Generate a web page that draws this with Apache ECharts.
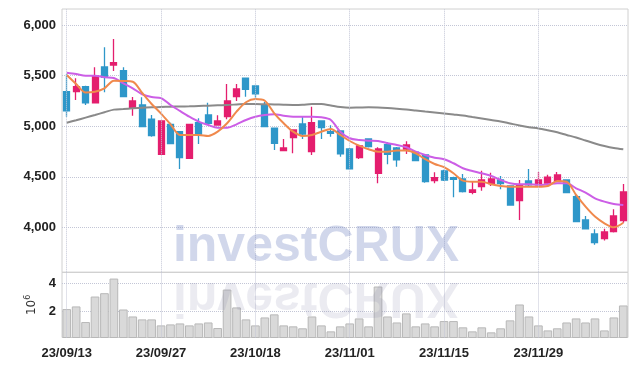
<!DOCTYPE html>
<html><head><meta charset="utf-8">
<script src="https://cdn.jsdelivr.net/npm/echarts@6/dist/echarts.min.js"></script>
<style>html,body{margin:0;padding:0;background:#fff}#c{width:635px;height:366px}</style>
</head><body><div id="c"></div>
<script>
const dates = ['23/09/13','23/09/14','23/09/15','23/09/18','23/09/19','23/09/20','23/09/21','23/09/22','23/09/25','23/09/26',
'23/09/27','23/10/04','23/10/05','23/10/06','23/10/10','23/10/11','23/10/12','23/10/13','23/10/16','23/10/17',
'23/10/18','23/10/19','23/10/20','23/10/23','23/10/24','23/10/25','23/10/26','23/10/27','23/10/30','23/10/31',
'23/11/01','23/11/02','23/11/03','23/11/06','23/11/07','23/11/08','23/11/09','23/11/10','23/11/13','23/11/14',
'23/11/15','23/11/16','23/11/17','23/11/20','23/11/21','23/11/22','23/11/23','23/11/24','23/11/27','23/11/28',
'23/11/29','23/11/30','23/12/01','23/12/04','23/12/05','23/12/06','23/12/07','23/12/08','23/12/11','23/12/12'];
const openP  = [5341,5341,5391,5230,5585,5605,5549,5177,5210,5069,4723,5019,4946,4683,5035,5111,5012,5094,5292,5474,
5398,5210,4980,4759,4887,5022,4749,5052,4946,4953,4775,4689,4874,4535,4818,4785,4775,4743,4716,4462,
4558,4492,4479,4348,4403,4433,4469,4410,4265,4459,4420,4437,4452,4469,4304,4074,3936,3889,3958,4067];
const closeP = [5151,5391,5230,5496,5483,5628,5292,5249,4996,4907,5052,4828,4689,5019,4923,5029,5052,5249,5368,5365,
5321,4996,4832,4785,4963,4923,5035,4986,4930,4726,4578,4805,4798,4775,4723,4667,4815,4660,4452,4492,
4469,4476,4354,4370,4469,4479,4433,4222,4417,4420,4469,4496,4518,4344,4057,3985,3850,3955,4114,4351];
const lowP   = [5094,5259,5210,5225,5335,5546,5285,5104,4990,4897,4720,4825,4578,4680,4825,5020,5005,5069,5249,5292,
5282,4990,4765,4752,4733,4874,4716,4874,4897,4699,4570,4676,4790,4437,4624,4600,4726,4655,4442,4437,
4460,4298,4345,4328,4363,4410,4377,4215,4074,4410,4415,4403,4446,4340,4053,3980,3830,3870,3949,4047];
const highP  = [5513,5474,5400,5582,5780,5862,5582,5289,5286,5111,5055,5035,4950,5025,5079,5233,5108,5417,5417,5480,
5410,5240,4985,4874,4968,5101,5193,5055,5009,4960,4785,4810,4880,4792,4841,4795,4851,4750,4720,4545,
4570,4500,4528,4459,4561,4541,4509,4415,4469,4578,4548,4521,4548,4475,4328,4114,3982,3988,4180,4430];
const maShort = [5506,5417,5333,5341,5375,5450,5447,5440,5328,5220,5124,5019,4914,4914,4914,4904,4946,5029,5144,5237,
5269,5252,5128,5029,4946,4904,4914,4946,4973,4914,4854,4808,4772,4749,4749,4759,4759,4733,4674,4627,
4595,4535,4462,4452,4452,4427,4410,4403,4403,4403,4403,4410,4459,4452,4321,4205,4107,4041,4002,4047];
const maMid = [5529,5516,5499,5499,5483,5477,5424,5375,5316,5288,5278,5210,5151,5094,5045,5012,4986,4986,5019,5062,
5094,5111,5118,5104,5094,5094,5094,5088,5062,4946,4881,4864,4857,4854,4832,4815,4792,4749,4716,4689,
4674,4634,4585,4558,4535,4509,4469,4437,4427,4427,4420,4427,4437,4437,4387,4344,4288,4255,4232,4222];
const maLong = [5035,5059,5085,5111,5138,5164,5170,5177,5183,5187,5190,5193,5195,5197,5200,5203,5207,5210,5215,5220,
5220,5217,5215,5212,5210,5212,5220,5220,5205,5190,5183,5185,5187,5185,5180,5173,5165,5155,5145,5136,
5126,5116,5106,5091,5077,5062,5047,5027,5007,4990,4978,4960,4940,4914,4889,4859,4830,4805,4785,4772];
const volume = [2.17,2.36,1.24,3.07,3.31,4.36,2.14,1.64,1.43,1.43,1.0,1.07,1.14,1.0,1.14,1.21,0.81,3.57,2.29,1.43,
1.0,1.57,1.79,1.0,0.93,0.79,1.64,1.0,0.57,0.93,1.14,1.5,0.93,3.79,1.64,1.21,1.86,0.93,1.14,0.93,
1.31,1.31,0.86,0.57,0.86,0.5,0.79,1.36,2.5,1.64,1.0,0.64,0.79,1.21,1.5,1.21,1.5,0.64,1.57,2.43];
const priceTicks = [4000,4500,5000,5500,6000];
const volumeTicks = [2,4];
const dateTicks = ['23/09/13','23/09/27','23/10/18','23/11/01','23/11/15','23/11/29'];

const candles = dates.map((d,i)=>[openP[i],closeP[i],lowP[i],highP[i]]);
const labelFont = {fontFamily:'"Liberation Sans",Arial,sans-serif', fontWeight:'bold', fontSize:13, color:'#222'};
const gridLineStyle = {type:'dotted', color:'#c3c6d6', width:1};
const isDateTick = (i,v)=>dateTicks.indexOf(v)>=0;
const vLines = {silent:true, symbol:['none','none'], label:{show:false}, lineStyle:gridLineStyle,
  data:dateTicks.map(d=>({xAxis:d}))};
const empty = dates.map(()=>'-');

const chart = echarts.init(document.getElementById('c'), null, {renderer:'canvas'});
chart.setOption({
  animation:false,
  backgroundColor:'#fff',
  grid:[
    {left:62, right:7, top:9, height:263.3, show:true, borderColor:'#d0d0d0', borderWidth:1},
    {left:62, right:7, top:272.3, height:65.2, show:true, borderColor:'#d0d0d0', borderWidth:1}
  ],
  xAxis:[
    {type:'category', gridIndex:0, data:dates, boundaryGap:true, axisLine:{show:false}, axisTick:{show:false}, axisLabel:{show:false}, splitLine:{show:false}},
    {type:'category', gridIndex:1, data:dates, boundaryGap:true, axisLine:{show:false}, axisTick:{show:false},
     axisLabel:Object.assign({interval:isDateTick, margin:9}, labelFont), splitLine:{show:false}}
  ],
  yAxis:[
    {type:'value', gridIndex:0, min:3557, max:6158, axisLine:{show:false},
     axisTick:{show:false, customValues:priceTicks},
     axisLabel:Object.assign({customValues:priceTicks, margin:6, formatter:v=>v.toLocaleString('en-US')}, labelFont),
     splitLine:{show:true, lineStyle:gridLineStyle}},
    {type:'value', gridIndex:1, min:0.13, max:4.81, axisLine:{show:false},
     axisTick:{show:false, customValues:volumeTicks},
     axisLabel:Object.assign({customValues:volumeTicks, margin:6}, labelFont),
     splitLine:{show:true, lineStyle:gridLineStyle},
     name:'10{s|6}', nameLocation:'middle', nameRotate:90, nameGap:20,
     nameTextStyle:{fontFamily:'DejaVu Sans', fontSize:12, color:'#333', rich:{s:{fontFamily:'DejaVu Sans', fontSize:8, color:'#333', verticalAlign:'top', padding:[0,0,7,0]}}}}
  ],
  graphic:[
    {type:'text', x:316, y:272, z:100, silent:true,
     style:{text:'investCRUX', font:'bold 50px "Liberation Sans"', fill:'rgba(105,125,190,0.31)', textAlign:'center', textVerticalAlign:'bottom'}},
    {type:'text', x:316, y:272, scaleY:-1, z:100, silent:true,
     style:{text:'investCRUX', font:'bold 50px "Liberation Sans"', fill:'rgba(120,120,160,0.15)', textAlign:'center', textVerticalAlign:'bottom'}}
  ],
  series:[
    {type:'line', xAxisIndex:0, yAxisIndex:0, data:empty, symbol:'none', z:1, markLine:vLines},
    {type:'line', xAxisIndex:1, yAxisIndex:1, data:empty, symbol:'none', z:1, markLine:vLines},
    {type:'candlestick', xAxisIndex:0, yAxisIndex:0, data:candles, barWidth:6.5, z:3,
     itemStyle:{color:'#e41e6e', color0:'#2e97c9', borderColor:'#e41e6e', borderColor0:'#2e97c9', borderWidth:1.3}},
    {type:'line', xAxisIndex:0, yAxisIndex:0, data:maLong, symbol:'none', smooth:0.3, z:4,
     lineStyle:{color:'#8a8a8a', width:2}},
    {type:'line', xAxisIndex:0, yAxisIndex:0, data:maMid, symbol:'none', smooth:0.3, z:4,
     lineStyle:{color:'#cc5ee6', width:2}},
    {type:'line', xAxisIndex:0, yAxisIndex:0, data:maShort, symbol:'none', smooth:0.3, z:4,
     lineStyle:{color:'#f0894c', width:2}},
    {type:'bar', xAxisIndex:1, yAxisIndex:1, data:volume, barWidth:'92%', z:2,
     itemStyle:{color:'#d9d9d9', borderColor:'#b8b8b8', borderWidth:1}}
  ]
});
</script></body></html>
